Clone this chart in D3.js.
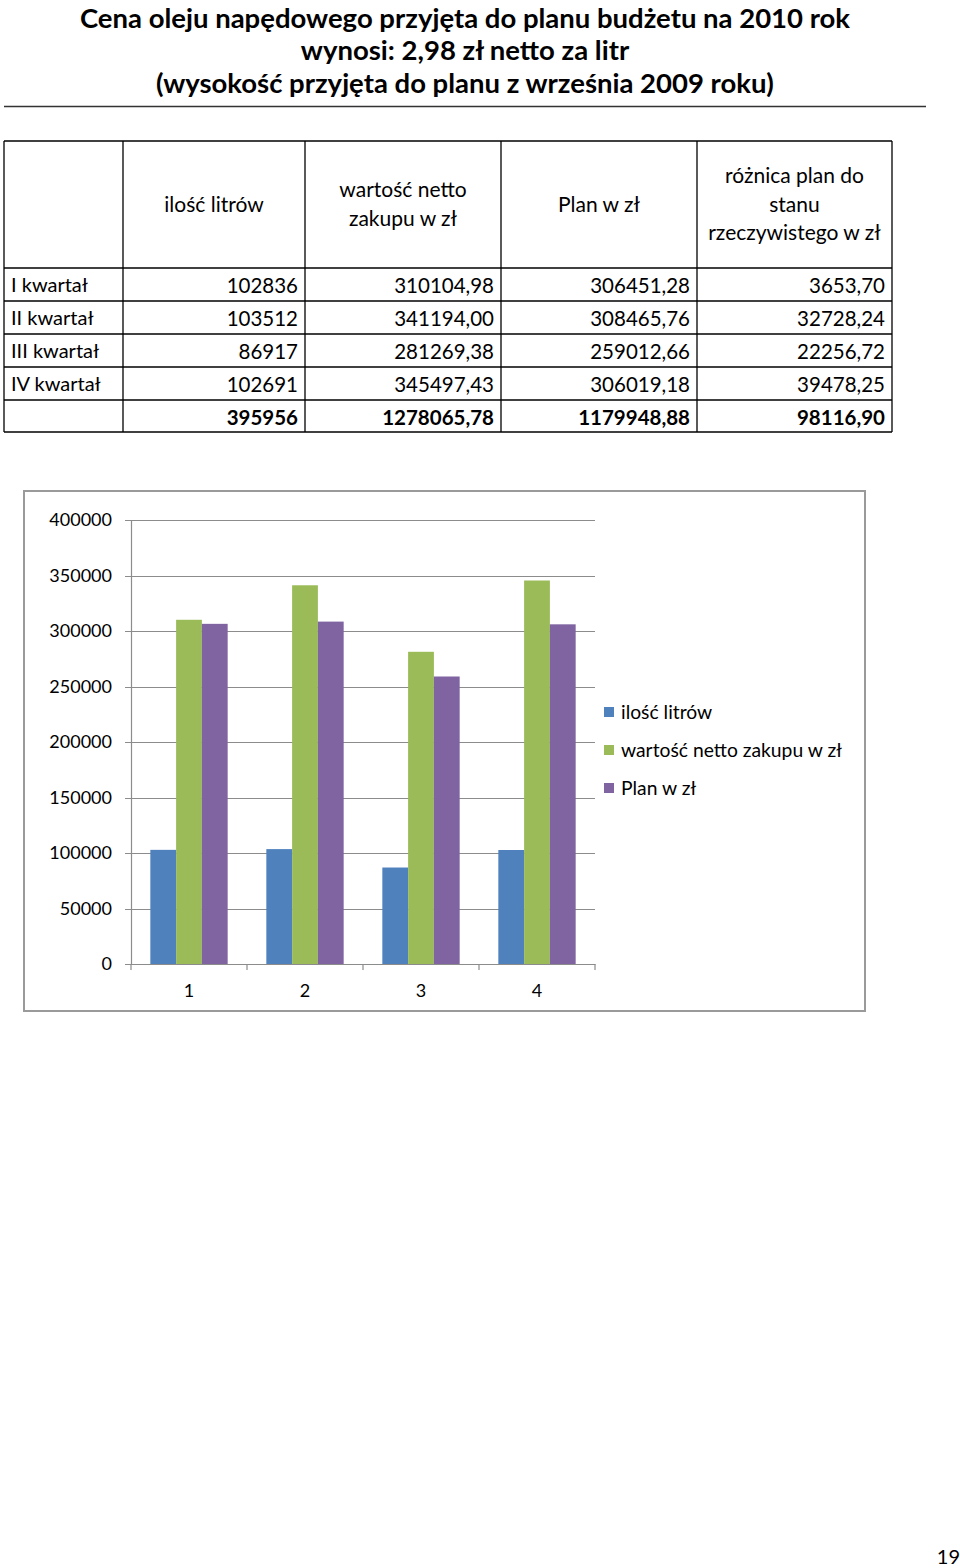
<!DOCTYPE html>
<html><head><meta charset="utf-8">
<script src="https://cdn.jsdelivr.net/npm/d3@7"></script>
<style>
html,body{margin:0;padding:0;background:#fff;}
svg{display:block;font-family:Lato,"Open Sans",sans-serif;}
</style></head>
<body>
<svg id="page" width="960" height="1568"></svg>
<script>
// ---- data ----
const titleLines = ["Cena oleju napędowego przyjęta do planu budżetu na 2010 rok",
  "wynosi: 2,98 zł netto za litr",
  "(wysokość przyjęta do planu z września 2009 roku)"];
const headers = [[""], ["ilość litrów"], ["wartość netto", "zakupu w zł"], ["Plan w zł"], ["różnica plan do", "stanu", "rzeczywistego w zł"]];
const quarters = ["I kwartał", "II kwartał", "III kwartał", "IV kwartał"];
const litres = [102836, 103512, 86917, 102691];
const netValue = [310104.98, 341194.00, 281269.38, 345497.43];
const plan = [306451.28, 308465.76, 259012.66, 306019.18];
const difference = [3653.70, 32728.24, 22256.72, 39478.25];
const totals = ["395956", "1278065,78", "1179948,88", "98116,90"];
const categories = ["1", "2", "3", "4"];
const seriesNames = ["ilość litrów", "wartość netto zakupu w zł", "Plan w zł"];
const seriesColors = ["#4F81BD", "#9BBB59", "#8064A2"];
const yTicks = [0, 50000, 100000, 150000, 200000, 250000, 300000, 350000, 400000];
const pageNumber = "19";

const svg = d3.select("#page");
const dec = v => d3.format(".2f")(v).replace(".", ",");

// ---- title ----
const tY = [27.5, 60, 93];
svg.append("g").selectAll("text").data(titleLines).join("text")
  .attr("x", 465).attr("y", (d, i) => tY[i]).attr("text-anchor", "middle")
  .attr("font-size", 27.5).attr("font-weight", 700).attr("fill", "#000").text(d => d);
svg.append("line").attr("x1", 4).attr("x2", 926).attr("y1", 106.5).attr("y2", 106.5)
  .attr("stroke", "#333").attr("stroke-width", 1.5);

// ---- table ----
const colX = [4, 123, 305, 501, 697, 892];
const rowY = [141, 268, 301, 334, 367, 400, 432];
const tbl = svg.append("g");
colX.forEach(x => tbl.append("line").attr("x1", x).attr("x2", x).attr("y1", rowY[0]).attr("y2", rowY[6]).attr("stroke", "#000").attr("stroke-width", 1.3));
rowY.forEach(y => tbl.append("line").attr("x1", colX[0]).attr("x2", colX[5]).attr("y1", y).attr("y2", y).attr("stroke", "#000").attr("stroke-width", 1.3));
headers.forEach((lines, c) => {
  const cx = (colX[c] + colX[c + 1]) / 2;
  const cy = (rowY[0] + rowY[1]) / 2;
  const lh = 28.5;
  lines.forEach((t, k) => {
    tbl.append("text").attr("x", cx).attr("y", cy + (k - (lines.length - 1) / 2) * lh + 7)
      .attr("text-anchor", "middle").attr("font-size", 21).attr("fill", "#000").text(t);
  });
});
const rows = quarters.map((q, i) => [q, String(litres[i]), dec(netValue[i]), dec(plan[i]), dec(difference[i])]);
rows.push(["", ...totals]);
rows.forEach((r, i) => {
  const yb = rowY[i + 1] + 25;
  const bold = i === 4;
  r.forEach((t, c) => {
    if (c === 0) {
      tbl.append("text").attr("x", colX[0] + 7).attr("y", yb - 1).attr("font-size", 20).text(t);
    } else {
      tbl.append("text").attr("x", colX[c + 1] - 7).attr("y", yb).attr("text-anchor", "end")
        .attr("font-size", 20.5).attr("font-weight", bold ? 700 : 400).text(t);
    }
  });
});

// ---- chart ----
svg.append("rect").attr("x", 24).attr("y", 491).attr("width", 841).attr("height", 520)
  .attr("fill", "#fff").attr("stroke", "#9a9a9a").attr("stroke-width", 2);

const plotL = 131, plotR = 595, plotT = 520, plotB = 964;
const x = d3.scaleBand().domain(categories).range([plotL, plotR]).paddingInner(0).paddingOuter(0);
const y = d3.scaleLinear().domain([0, 400000]).range([plotB, plotT]);
const x1 = d3.scaleBand().domain(d3.range(3)).range([0, x.bandwidth()]).paddingOuter(0.75).paddingInner(0);

const chart = svg.append("g");
// gridlines
chart.append("g").selectAll("line").data(yTicks).join("line")
  .attr("x1", plotL - 6).attr("x2", plotR).attr("y1", d => Math.round(y(d)) + 0.5).attr("y2", d => Math.round(y(d)) + 0.5)
  .attr("stroke", "#8c8c8c").attr("stroke-width", 1.2);
// y axis
const yAxis = d3.axisLeft(y).tickValues(yTicks).tickSize(0).tickPadding(19).tickFormat(d3.format("d"));
const ya = chart.append("g").attr("transform", `translate(${plotL},0)`).call(yAxis);
ya.select(".domain").attr("stroke", "#8c8c8c").attr("stroke-width", 1.2);
ya.selectAll("text").attr("font-size", 18).attr("fill", "#000").attr("font-family", "Lato");

// bars
const series = [litres, netValue, plan];
series.forEach((vals, s) => {
  chart.append("g").selectAll("rect").data(vals).join("rect")
    .attr("x", (d, i) => x(categories[i]) + x1(s))
    .attr("width", x1.bandwidth())
    .attr("y", d => y(d)).attr("height", d => plotB - y(d))
    .attr("fill", seriesColors[s]);
});

// x axis
const xAxis = d3.axisBottom(x).tickSize(0).tickPadding(20);
const xa = chart.append("g").attr("transform", `translate(0,${plotB})`).call(xAxis);
xa.select(".domain").attr("stroke", "#8c8c8c").attr("stroke-width", 1.2);
xa.selectAll("text").attr("font-size", 18).attr("fill", "#000").attr("font-family", "Lato");
// tick marks at band boundaries
const bounds = categories.map(c => x(c)).concat([plotR]);
chart.append("g").selectAll("line").data(bounds).join("line")
  .attr("x1", d => d).attr("x2", d => d).attr("y1", plotB).attr("y2", plotB + 6)
  .attr("stroke", "#8c8c8c").attr("stroke-width", 1.2);

// legend
const lg = svg.append("g");
const legY = [712, 750, 788];
seriesNames.forEach((n, i) => {
  lg.append("rect").attr("x", 604).attr("y", legY[i] - 5).attr("width", 10).attr("height", 10).attr("fill", seriesColors[i]);
  lg.append("text").attr("x", 621).attr("y", legY[i] + 6.5).attr("font-size", 19.3).attr("fill", "#000").text(n);
});

// page number
svg.append("text").attr("x", 960).attr("y", 1564).attr("text-anchor", "end").attr("font-size", 20).attr("fill", "#000").text(pageNumber);
</script>
</body></html>
